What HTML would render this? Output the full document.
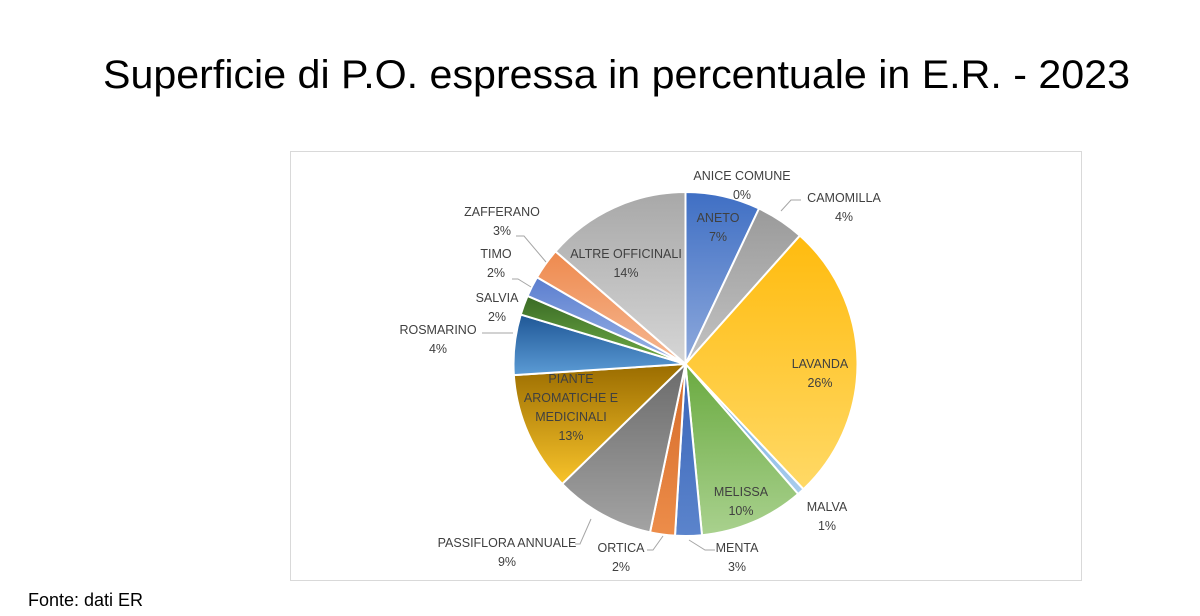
<!DOCTYPE html>
<html><head><meta charset="utf-8"><style>
html,body{margin:0;padding:0;background:#fff;}
svg{display:block;font-family:"Liberation Sans",sans-serif;}
</style></head><body>
<svg id="s" width="1200" height="616" viewBox="0 0 1200 616" xmlns="http://www.w3.org/2000/svg">
<defs id="d"></defs>
<text x="103" y="88" font-size="40" fill="#000" textLength="1027" lengthAdjust="spacingAndGlyphs">Superficie di P.O. espressa in percentuale in E.R. - 2023</text>
<rect x="290.5" y="151.5" width="791" height="429" fill="#fff" stroke="#d9d9d9" stroke-width="1"/>
<g id="pie"></g>
<g stroke="#a6a6a6" stroke-width="1" fill="none">
<polyline points="781,211 791,200 801,200"/>
<polyline points="546,262 524,236 516,236"/>
<polyline points="531,287 518,279 512,279"/>
<polyline points="513,333 482,333"/>
<polyline points="591,519 580,544 575,544"/>
<polyline points="663,536 653,550 647,550"/>
<polyline points="689,540 705,550 715,550"/>
</g>
<g font-size="12.5" fill="#404040" text-anchor="middle">
<text x="742" y="180">ANICE COMUNE</text><text x="742" y="199">0%</text>
<text x="844" y="202">CAMOMILLA</text><text x="844" y="221">4%</text>
<text x="718" y="222">ANETO</text><text x="718" y="241">7%</text>
<text x="820" y="368">LAVANDA</text><text x="820" y="387">26%</text>
<text x="827" y="511">MALVA</text><text x="827" y="530">1%</text>
<text x="741" y="496">MELISSA</text><text x="741" y="515">10%</text>
<text x="737" y="552">MENTA</text><text x="737" y="571">3%</text>
<text x="621" y="552">ORTICA</text><text x="621" y="571">2%</text>
<text x="507" y="547">PASSIFLORA ANNUALE</text><text x="507" y="566">9%</text>
<text x="571" y="383">PIANTE</text><text x="571" y="402">AROMATICHE E</text><text x="571" y="421">MEDICINALI</text><text x="571" y="440">13%</text>
<text x="438" y="334">ROSMARINO</text><text x="438" y="353">4%</text>
<text x="497" y="302">SALVIA</text><text x="497" y="321">2%</text>
<text x="496" y="258">TIMO</text><text x="496" y="277">2%</text>
<text x="502" y="216">ZAFFERANO</text><text x="502" y="235">3%</text>
<text x="626" y="258">ALTRE OFFICINALI</text><text x="626" y="277">14%</text>
</g>
<text x="28" y="606" font-size="18" fill="#000">Fonte: dati ER</text>
</svg>
<script>
var cx=685.5,cy=364,r=172;
var sl=[[0,25.3,"#3f6fc4","#8ea9dc"],[25.3,41.7,"#9a9a9a","#c3c3c3"],[41.7,136.7,"#ffbb0e","#ffd966"],
[136.7,139.1,"#6fa8dc","#a9cdee"],[139.1,174.5,"#6aaa40","#a9d18e"],[174.5,183.5,"#3a65b8","#5b84cc"],
[183.5,191.9,"#d46a28","#ed8d4a"],[191.9,225.8,"#6b6b6b","#a3a3a3"],[225.8,266.3,"#9a6c00","#f8c32a"],
[266.3,286.7,"#1f5796","#5b9bd5"],[286.7,293.3,"#3a6b25","#70ad47"],[293.3,300.3,"#5b7ecf","#9bb4e6"],
[300.3,310.9,"#ee8a4e","#f6b893"],[310.9,360,"#a8a8a8","#d6d6d6"]];
var d=document.getElementById("d"),p=document.getElementById("pie"),ns="http://www.w3.org/2000/svg",h="";
function pt(a){a=a*Math.PI/180;return [(cx+r*Math.sin(a)).toFixed(2),(cy-r*Math.cos(a)).toFixed(2)];}
var g="";
sl.forEach(function(s,i){
g+='<linearGradient id="g'+i+'" x1="0" y1="0" x2="0" y2="1"><stop offset="0" stop-color="'+s[2]+'"/><stop offset="1" stop-color="'+s[3]+'"/></linearGradient>';
var a=pt(s[0]),b=pt(s[1]),L=(s[1]-s[0])>180?1:0;
h+='<path d="M'+cx+','+cy+' L'+a[0]+','+a[1]+' A'+r+','+r+' 0 '+L+' 1 '+b[0]+','+b[1]+' Z" fill="url(#g'+i+')" stroke="#fff" stroke-width="2" stroke-linejoin="round"/>';
});
d.innerHTML=g;p.innerHTML=h;
</script>
</body></html>
